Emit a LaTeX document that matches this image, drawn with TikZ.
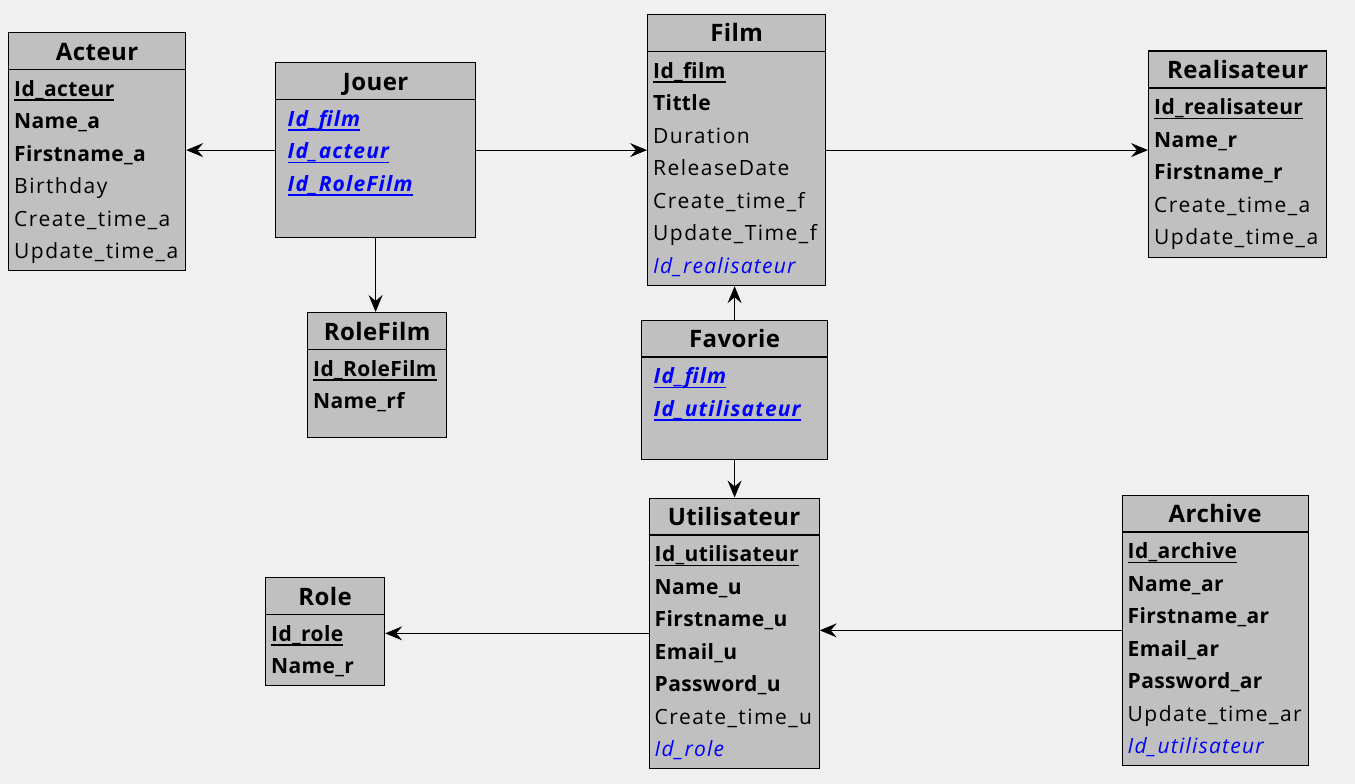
\documentclass[tikz,border=0pt]{standalone}
\usepackage{fontspec}
\setmainfont{Open Sans}[
  UprightFeatures={LetterSpace=7.0},
  BoldFeatures={LetterSpace=1.8},
  ItalicFeatures={LetterSpace=6.0},
  BoldItalicFeatures={LetterSpace=5.5}]
\usetikzlibrary{calc,arrows.meta}
\definecolor{bgc}{HTML}{F0F0F0}
\definecolor{boxc}{HTML}{C0C0C0}
\definecolor{fkblue}{HTML}{0000FF}
\newcommand\ulx[1]{\setbox0\hbox{#1}\rlap{\vrule width\wd0 height -3.4pt depth 4.7pt}\box0}
\newcommand\pk[1]{\textbf{\ulx{#1}}}
\newcommand\fk[1]{{\color{fkblue}\itshape #1}}
\newcommand\pfk[1]{\hspace*{6.5pt}{\color{fkblue}\bfseries\itshape\ulx{#1}}}
\newcommand\ertable[7]{%
  \node[tbl, minimum width=#4pt, minimum height=#5pt, anchor=north west] (#1) at (#2,#3) {};
  \node[ttl, anchor=base] (#1-t) at ($(#1.north)+(0,28)$) {#6};
  \draw[divider] ($(#1.north west)+(0,37.5)$) -- ($(#1.north east)+(0,37.5)$);
  \foreach \txt [count=\i from 0] in {#7}
    \node[row, anchor=base west] (#1-r\i) at ($(#1.north west)+(6,64+32.5*\i)$) {\txt};
}
\begin{document}
\begin{tikzpicture}[x=1pt,y=-1pt,
  tbl/.style={draw=black, line width=1.2pt, fill=boxc, inner sep=0pt, rectangle},
  ttl/.style={inner sep=0pt, font=\fontsize{24}{28}\selectfont\bfseries},
  row/.style={inner sep=0pt, font=\fontsize{21}{24}\selectfont},
  divider/.style={line width=1.2pt, black},
  arr/.style={line width=1pt, black, -{Stealth[length=17pt,width=14pt,inset=6pt]}}]
\fill[bgc] (0,0) rectangle (1355,784);
\useasboundingbox (0,0) rectangle (1355,784);

\ertable{Acteur}{8}{32}{177}{238}{Acteur}{\pk{Id\_acteur},\textbf{Name\_a},\textbf{Firstname\_a},Birthday,Create\_time\_a,Update\_time\_a}
\ertable{Jouer}{275}{62}{200}{175}{Jouer}{\pfk{Id\_film},\pfk{Id\_acteur},\pfk{Id\_RoleFilm}}
\ertable{Film}{647}{14}{178}{271}{Film}{\pk{Id\_film},\textbf{Tittle},Duration,ReleaseDate,Create\_time\_f,Update\_Time\_f,\fk{Id\_realisateur}}
\ertable{Realisateur}{1148}{50.5}{178}{206.5}{Realisateur}{\pk{Id\_realisateur},\textbf{Name\_r},\textbf{Firstname\_r},Create\_time\_a,Update\_time\_a}
\ertable{RoleFilm}{307}{312}{139}{125}{RoleFilm}{\pk{Id\_RoleFilm},\textbf{Name\_rf}}
\ertable{Favorie}{641}{319.5}{186}{139.5}{Favorie}{\pfk{Id\_film},\pfk{Id\_utilisateur}}
\ertable{Utilisateur}{648.5}{497.5}{170}{270.5}{Utilisateur}{\pk{Id\_utilisateur},\textbf{Name\_u},\textbf{Firstname\_u},\textbf{Email\_u},\textbf{Password\_u},Create\_time\_u,\fk{Id\_role}}
\ertable{Role}{265}{577}{119}{108}{Role}{\pk{Id\_role},\textbf{Name\_r}}
\ertable{Archive}{1121.5}{494.5}{186}{270.5}{Archive}{\pk{Id\_archive},\textbf{Name\_ar},\textbf{Firstname\_ar},\textbf{Email\_ar},\textbf{Password\_ar},Update\_time\_ar,\fk{Id\_utilisateur}}

\draw[arr] (Jouer.west) -- (Jouer.west -| Acteur.east);
\draw[arr] (Jouer.east) -- (Jouer.east -| Film.west);
\draw[arr] (Film.east) -- (Film.east -| Realisateur.west);
\draw[arr] (Jouer.south) -- (Jouer.south |- RoleFilm.north);
\draw[arr] (Favorie.north) -- (Favorie.north |- Film.south);
\draw[arr] (Favorie.south) -- (Favorie.south |- Utilisateur.north);
\draw[arr] (Utilisateur.west) -- (Utilisateur.west -| Role.east);
\draw[arr] (Archive.west) -- (Archive.west -| Utilisateur.east);
\end{tikzpicture}
\end{document}
